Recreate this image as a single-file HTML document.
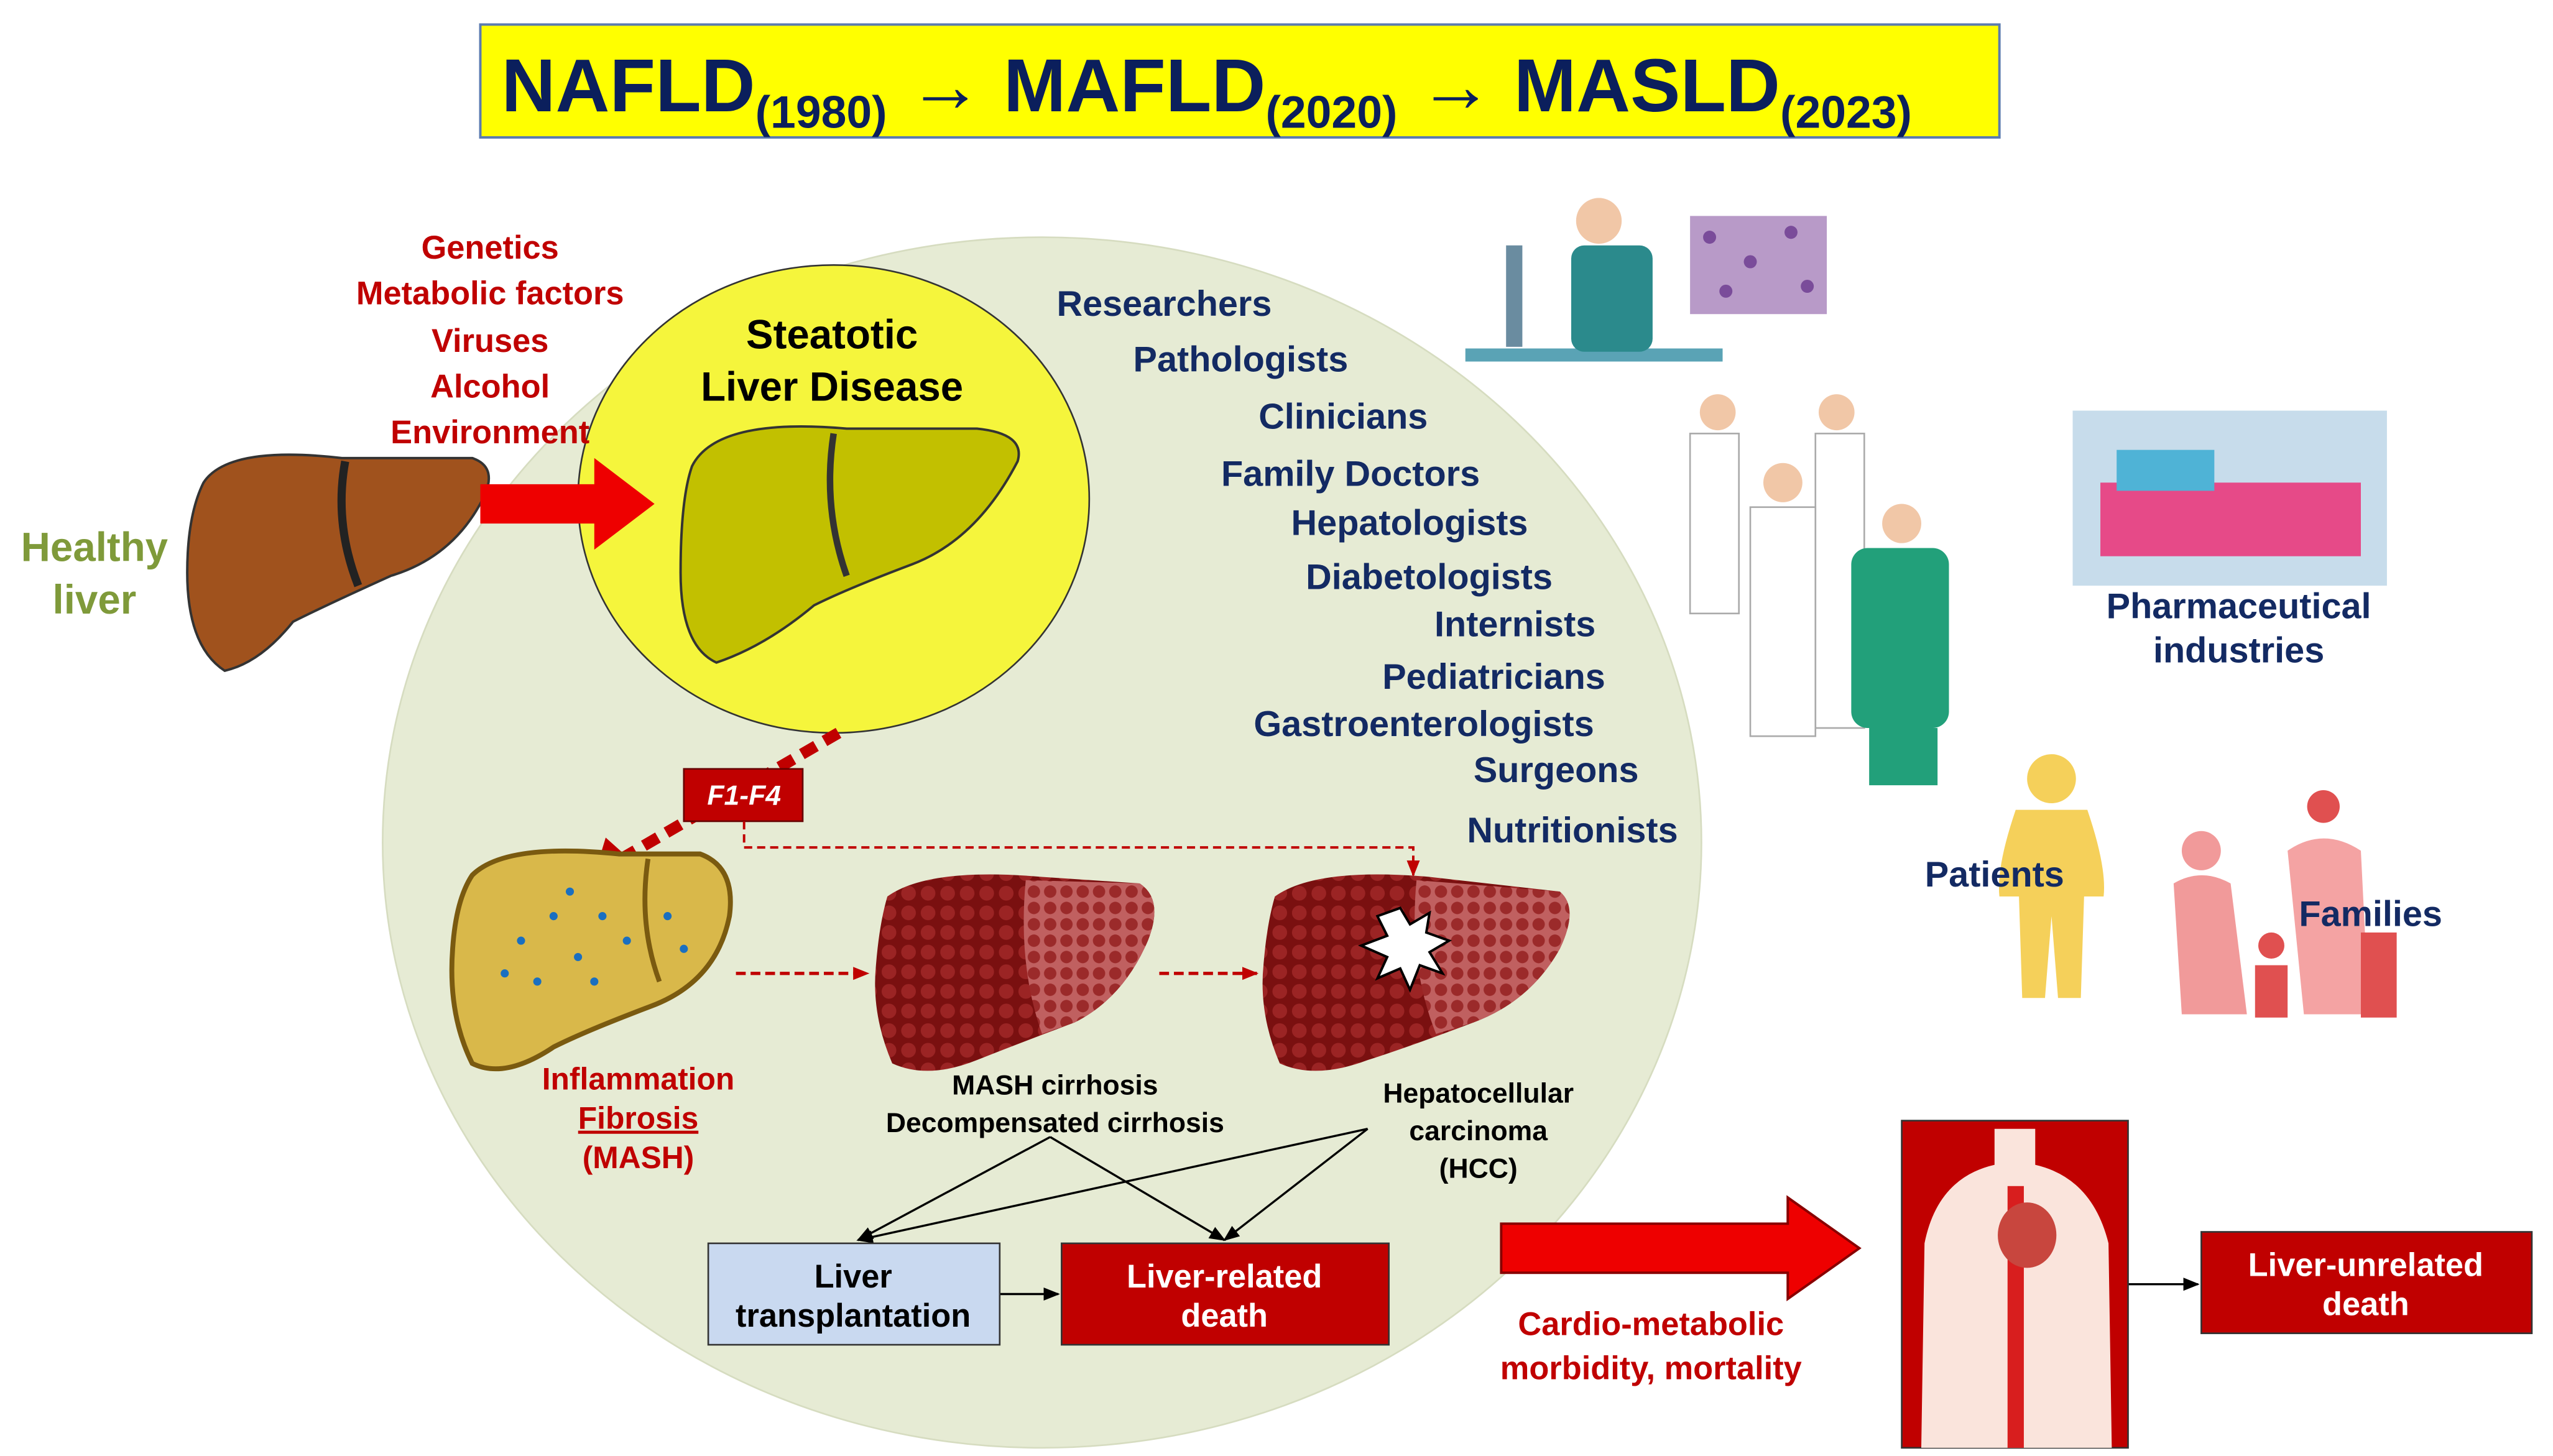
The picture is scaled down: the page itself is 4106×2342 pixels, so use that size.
<!DOCTYPE html>
<html><head><meta charset="utf-8"><style>
html,body{margin:0;padding:0;background:#fff;}
svg{display:block;}
text{font-family:"Liberation Sans",Arial,sans-serif;font-weight:bold;}
</style></head><body>
<svg width="4106" height="2342" viewBox="0 0 1568 890" preserveAspectRatio="none" xmlns="http://www.w3.org/2000/svg">
<defs>
<marker id="ab" markerWidth="10" markerHeight="10" refX="9" refY="5" orient="auto" markerUnits="userSpaceOnUse"><path d="M0,1 L10,5 L0,9 z" fill="#000"/></marker>
<marker id="ar" markerWidth="10" markerHeight="10" refX="9" refY="5" orient="auto" markerUnits="userSpaceOnUse"><path d="M0,1 L10,5 L0,9 z" fill="#c00000"/></marker>
<pattern id="cir" width="12" height="12" patternUnits="userSpaceOnUse"><rect width="12" height="12" fill="#7a1010"/><circle cx="6" cy="6" r="4.5" fill="#9b2424"/></pattern>
<pattern id="cir2" width="10" height="10" patternUnits="userSpaceOnUse"><rect width="10" height="10" fill="#c06060"/><circle cx="5" cy="5" r="3.8" fill="#9b2a2a"/></pattern>
</defs>
<rect x="295" y="15" width="933" height="69" fill="#ffff00" stroke="#5b7bb0" stroke-width="1.5"/>
<text x="308" y="68" font-size="46" fill="#0b1f5c">NAFLD<tspan font-size="28" dy="10">(1980)</tspan><tspan dy="-10"> → MAFLD</tspan><tspan font-size="28" dy="10">(2020)</tspan><tspan dy="-10"> → MASLD</tspan><tspan font-size="28" dy="10">(2023)</tspan></text>
<ellipse cx="640" cy="515" rx="405" ry="370" fill="#e6ebd4" stroke="#d6dcc0"/>
<ellipse cx="512" cy="305" rx="157" ry="143" fill="#f5f53c" stroke="#333" stroke-width="1"/>
<text x="511" y="213" font-size="25" text-anchor="middle" fill="#000">Steatotic</text>
<text x="511" y="245" font-size="25" text-anchor="middle" fill="#000">Liver Disease</text>
<path d="M425,285 Q440,255 520,262 L600,262 Q630,265 625,282 Q600,330 560,345 Q520,360 500,370 Q470,395 440,405 Q418,395 418,350 Q418,305 425,285 Z" fill="#c2c000" stroke="#333" stroke-width="1.5"/>
<path d="M512,265 Q505,310 520,352" fill="none" stroke="#333" stroke-width="4"/>
<g font-size="20" fill="#c00000" text-anchor="middle">
<text x="301" y="158">Genetics</text>
<text x="301" y="186">Metabolic factors</text>
<text x="301" y="215">Viruses</text>
<text x="301" y="243">Alcohol</text>
<text x="301" y="271">Environment</text>
</g>
<text x="58" y="343" font-size="25" fill="#7f9a3a" text-anchor="middle">Healthy</text>
<text x="58" y="375" font-size="25" fill="#7f9a3a" text-anchor="middle">liver</text>
<path d="M125,295 Q140,272 210,280 L290,280 Q305,285 298,302 Q280,340 240,352 Q200,370 180,380 Q160,405 138,410 Q115,395 115,350 Q115,315 125,295 Z" fill="#a0521d" stroke="#333" stroke-width="1.5"/>
<path d="M212,282 Q205,320 220,358" fill="none" stroke="#222" stroke-width="5"/>
<path d="M295,296 L365,296 L365,280 L402,308 L365,336 L365,320 L295,320 Z" fill="#ee0000"/>
<g font-size="22" fill="#132a63">
<text x="649" y="193">Researchers</text>
<text x="696" y="227">Pathologists</text>
<text x="773" y="262">Clinicians</text>
<text x="750" y="297">Family Doctors</text>
<text x="793" y="327">Hepatologists</text>
<text x="802" y="360">Diabetologists</text>
<text x="881" y="389">Internists</text>
<text x="849" y="421">Pediatricians</text>
<text x="770" y="450">Gastroenterologists</text>
<text x="905" y="478">Surgeons</text>
<text x="901" y="515">Nutritionists</text>
</g>
<line x1="515" y1="448" x2="378" y2="527" stroke="#c00000" stroke-width="7" stroke-dasharray="10,6"/>
<path d="M365,535 L372,512 L390,528 Z" fill="#c00000"/>
<rect x="420" y="470" width="73" height="32" fill="#c00000" stroke="#600"/>
<text x="457" y="492" font-size="17" fill="#fff" font-style="italic" text-anchor="middle">F1-F4</text>
<path d="M457,502 L457,518 L868,518 L868,535" fill="none" stroke="#c00000" stroke-width="1.5" stroke-dasharray="5,3" marker-end="url(#ar)"/>
<path d="M290,535 Q310,515 380,522 L430,522 Q452,530 448,560 Q440,600 400,615 Q360,630 340,640 Q310,660 290,650 Q275,620 278,580 Q280,550 290,535 Z" fill="#d9b84a" stroke="#7a5a10" stroke-width="3"/>
<g fill="#1a6fc0"><circle cx="320" cy="575" r="2.5"/><circle cx="340" cy="560" r="2.5"/><circle cx="355" cy="585" r="2.5"/><circle cx="370" cy="560" r="2.5"/><circle cx="330" cy="600" r="2.5"/><circle cx="385" cy="575" r="2.5"/><circle cx="350" cy="545" r="2.5"/><circle cx="410" cy="560" r="2.5"/><circle cx="420" cy="580" r="2.5"/><circle cx="310" cy="595" r="2.5"/><circle cx="365" cy="600" r="2.5"/></g>
<path d="M398,525 Q392,565 405,600" stroke="#7a5a10" stroke-width="3" fill="none"/>
<path d="M545,548 Q570,530 640,536 L700,540 Q715,550 705,575 Q690,610 660,625 Q620,640 600,648 Q570,660 548,650 Q535,620 538,590 Q540,565 545,548 Z" fill="url(#cir)"/>
<path d="M630,538 L700,540 Q715,550 705,575 Q690,610 660,625 L640,632 Q625,590 630,538 Z" fill="url(#cir2)"/>
<path d="M783,548 Q808,530 878,536 L958,545 Q970,555 958,580 Q940,612 905,625 Q865,640 840,648 Q808,660 786,650 Q773,620 776,590 Q778,565 783,548 Z" fill="url(#cir)"/>
<path d="M870,538 L958,545 Q970,555 958,580 Q940,612 905,625 L882,632 Q865,590 870,538 Z" fill="url(#cir2)"/>
<path d="M860,555 L866,565 L878,558 L876,570 L890,575 L878,582 L886,595 L872,590 L866,605 L860,592 L846,598 L852,585 L836,578 L852,572 L846,560 Z" fill="#fff" stroke="#000" stroke-width="1.5"/>
<line x1="452" y1="595" x2="533" y2="595" stroke="#c00000" stroke-width="2" stroke-dasharray="6,3" marker-end="url(#ar)"/>
<line x1="712" y1="595" x2="772" y2="595" stroke="#c00000" stroke-width="2" stroke-dasharray="6,3" marker-end="url(#ar)"/>
<g font-size="19" fill="#c00000" text-anchor="middle">
<text x="392" y="666">Inflammation</text>
<text x="392" y="690" text-decoration="underline">Fibrosis</text>
<text x="392" y="714">(MASH)</text>
</g>
<g font-size="17" fill="#000" text-anchor="middle">
<text x="648" y="669">MASH cirrhosis</text>
<text x="648" y="692">Decompensated cirrhosis</text>
<text x="908" y="674">Hepatocellular</text>
<text x="908" y="697">carcinoma</text>
<text x="908" y="720">(HCC)</text>
</g>
<g stroke="#000" stroke-width="1.3" fill="none">
<line x1="645" y1="695" x2="527" y2="758" marker-end="url(#ab)"/>
<line x1="645" y1="695" x2="752" y2="758" marker-end="url(#ab)"/>
<line x1="840" y1="690" x2="527" y2="758" marker-end="url(#ab)"/>
<line x1="840" y1="690" x2="752" y2="758" marker-end="url(#ab)"/>
<line x1="614" y1="791" x2="650" y2="791" marker-end="url(#ab)"/>
<line x1="1307" y1="785" x2="1350" y2="785" marker-end="url(#ab)"/>
</g>
<rect x="435" y="760" width="179" height="62" fill="#c9d9f0" stroke="#333"/>
<text x="524" y="787" font-size="20" text-anchor="middle" fill="#000">Liver</text>
<text x="524" y="811" font-size="20" text-anchor="middle" fill="#000">transplantation</text>
<rect x="652" y="760" width="201" height="62" fill="#c00000" stroke="#333"/>
<text x="752" y="787" font-size="20" text-anchor="middle" fill="#fff">Liver-related</text>
<text x="752" y="811" font-size="20" text-anchor="middle" fill="#fff">death</text>
<path d="M922,748 L1098,748 L1098,732 L1142,763 L1098,794 L1098,778 L922,778 Z" fill="#ee0000" stroke="#800" stroke-width="1.5"/>
<text x="1014" y="816" font-size="20" fill="#c00000" text-anchor="middle">Cardio-metabolic</text>
<text x="1014" y="843" font-size="20" fill="#c00000" text-anchor="middle">morbidity, mortality</text>
<rect x="1168" y="685" width="139" height="200" fill="#c00000" stroke="#333"/>
<path d="M1180,885 L1182,760 Q1190,720 1225,712 L1225,690 L1250,690 L1250,712 Q1285,720 1295,760 L1297,885 Z" fill="#fae4dc"/>
<rect x="1233" y="725" width="10" height="160" fill="#d81e1e"/>
<ellipse cx="1245" cy="755" rx="18" ry="20" fill="#c8463e"/>
<rect x="1352" y="753" width="203" height="62" fill="#c00000" stroke="#333"/>
<text x="1453" y="780" font-size="20" text-anchor="middle" fill="#fff">Liver-unrelated</text>
<text x="1453" y="804" font-size="20" text-anchor="middle" fill="#fff">death</text>
<rect x="1038" y="132" width="84" height="60" fill="#b89ac8"/>
<g fill="#7a4c9a"><circle cx="1050" cy="145" r="4"/><circle cx="1075" cy="160" r="4"/><circle cx="1100" cy="142" r="4"/><circle cx="1060" cy="178" r="4"/><circle cx="1110" cy="175" r="4"/></g>
<rect x="900" y="213" width="158" height="8" fill="#5aa3b5"/>
<rect x="965" y="150" width="50" height="65" rx="8" fill="#2b8a8c"/>
<circle cx="982" cy="135" r="14" fill="#f1c7a7"/>
<rect x="925" y="150" width="10" height="62" fill="#6a8ca0"/>
<rect x="1038" y="265" width="30" height="110" fill="#fff" stroke="#aaa"/>
<circle cx="1055" cy="252" r="11" fill="#f1c7a7"/>
<rect x="1115" y="265" width="30" height="180" fill="#fff" stroke="#aaa"/>
<circle cx="1128" cy="252" r="11" fill="#f1c7a7"/>
<rect x="1075" y="310" width="40" height="140" fill="#fff" stroke="#aaa"/>
<circle cx="1095" cy="295" r="12" fill="#f1c7a7"/>
<rect x="1137" y="335" width="60" height="110" rx="10" fill="#22a07a"/>
<rect x="1148" y="445" width="42" height="35" fill="#22a07a"/>
<circle cx="1168" cy="320" r="12" fill="#f1c7a7"/>
<rect x="1273" y="251" width="193" height="107" fill="#c7dceb"/>
<rect x="1290" y="295" width="160" height="45" fill="#e64a88"/>
<rect x="1300" y="275" width="60" height="25" fill="#4fb3d6"/>
<text x="1375" y="378" font-size="22" fill="#132a63" text-anchor="middle">Pharmaceutical</text>
<text x="1375" y="405" font-size="22" fill="#132a63" text-anchor="middle">industries</text>
<circle cx="1260" cy="476" r="15" fill="#f5d05a"/>
<path d="M1238,495 L1282,495 Q1294,530 1292,548 L1280,548 L1278,610 L1264,610 L1260,560 L1256,610 L1242,610 L1240,548 L1228,548 Q1226,530 1238,495 Z" fill="#f5d05a"/>
<text x="1225" y="542" font-size="22" fill="#132a63" text-anchor="middle">Patients</text>
<circle cx="1352" cy="520" r="12" fill="#f19a9a"/>
<path d="M1335,540 Q1352,530 1370,540 L1380,620 L1340,620 Z" fill="#f19a9a"/>
<circle cx="1427" cy="493" r="10" fill="#e05050"/>
<path d="M1405,520 Q1427,505 1450,520 L1455,620 L1415,620 Z" fill="#f4a3a3"/>
<circle cx="1395" cy="578" r="8" fill="#e05050"/>
<rect x="1385" y="590" width="20" height="32" fill="#e05050"/>
<rect x="1450" y="570" width="22" height="52" fill="#e05050"/>
<text x="1456" y="566" font-size="22" fill="#132a63" text-anchor="middle">Families</text>
</svg>
</body></html>
